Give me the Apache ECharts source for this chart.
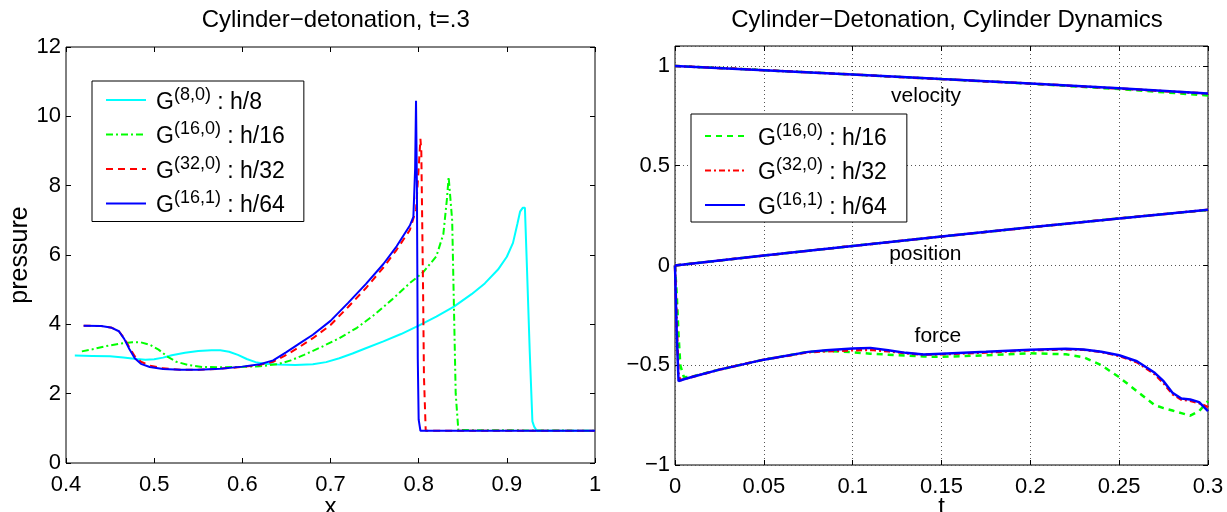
<!DOCTYPE html>
<html><head><meta charset="utf-8">
<script src="https://cdn.jsdelivr.net/npm/echarts@6/dist/echarts.min.js"></script>
<style>html,body{margin:0;padding:0;background:#fff}#c{width:1227px;height:512px}</style>
</head><body><div id="c"></div>
<script>
const FONT = '"Liberation Sans", Arial, Helvetica, sans-serif';

// ---------- texts ----------
const leftTitle = 'Cylinder−detonation, t=.3';
const rightTitle = 'Cylinder−Detonation, Cylinder Dynamics';
const leftXName = 'x', leftYName = 'pressure', rightXName = 't';

// ---------- tick values ----------
const leftXTicks = [0.4, 0.5, 0.6, 0.7, 0.8, 0.9, 1];
const leftYTicks = [0, 2, 4, 6, 8, 10, 12];
const rightXTicks = [0, 0.05, 0.1, 0.15, 0.2, 0.25, 0.3];
const rightYTicks = [-1, -0.5, 0, 0.5, 1];
const rightYMax = 1.1;

// ---------- legend labels: [key, superscript, suffix] ----------
const leftLegend = [['L8', '(8,0)', ' : h/8'], ['L16', '(16,0)', ' : h/16'], ['L32', '(32,0)', ' : h/32'], ['L64', '(16,1)', ' : h/64']];
const rightLegend = [['R16', '(16,0)', ' : h/16'], ['R32', '(32,0)', ' : h/32'], ['R64', '(16,1)', ' : h/64']];

// ---------- left plot: pressure vs x ----------
const p8 = [[0.41,3.10],[0.43,3.09],[0.45,3.08],[0.465,3.04],[0.48,3.0],[0.49,2.98],[0.50,2.99],[0.51,3.04],[0.52,3.11],[0.535,3.18],[0.55,3.23],[0.565,3.25],[0.575,3.25],[0.585,3.21],[0.595,3.12],[0.605,3.00],[0.615,2.91],[0.625,2.86],[0.64,2.84],[0.66,2.83],[0.68,2.85],[0.695,2.91],[0.71,3.02],[0.725,3.16],[0.74,3.31],[0.76,3.51],[0.78,3.72],[0.80,3.96],[0.82,4.22],[0.84,4.51],[0.86,4.87],[0.875,5.18],[0.89,5.58],[0.90,5.95],[0.907,6.35],[0.912,6.9],[0.915,7.25],[0.918,7.36],[0.9205,7.36],[0.923,5.5],[0.926,3.2],[0.929,1.2],[0.931,1.05],[0.934,0.93],[1.0,0.93]];
const p16 = [[0.418,3.22],[0.43,3.28],[0.445,3.37],[0.46,3.44],[0.475,3.48],[0.485,3.48],[0.495,3.41],[0.505,3.27],[0.515,3.07],[0.525,2.92],[0.54,2.82],[0.555,2.77],[0.575,2.76],[0.595,2.77],[0.62,2.79],[0.64,2.85],[0.655,2.96],[0.67,3.12],[0.69,3.35],[0.71,3.60],[0.73,3.90],[0.75,4.28],[0.77,4.72],[0.79,5.19],[0.805,5.50],[0.82,5.96],[0.828,6.6],[0.832,7.6],[0.834,8.25],[0.836,8.2],[0.838,7.0],[0.840,4.5],[0.842,2.0],[0.845,0.95],[1.0,0.93]];
const p32 = [[0.42,3.96],[0.44,3.95],[0.452,3.90],[0.46,3.80],[0.466,3.6],[0.472,3.33],[0.478,3.08],[0.485,2.92],[0.495,2.81],[0.51,2.73],[0.53,2.69],[0.55,2.69],[0.575,2.72],[0.60,2.77],[0.62,2.83],[0.635,2.92],[0.65,3.12],[0.665,3.35],[0.68,3.60],[0.70,3.98],[0.72,4.50],[0.74,5.04],[0.76,5.64],[0.775,6.15],[0.79,6.72],[0.797,7.3],[0.800,8.5],[0.802,9.35],[0.803,9.0],[0.805,5.0],[0.806,2.5],[0.808,0.93],[1.0,0.93]];
const p64 = [[0.42,3.96],[0.44,3.95],[0.452,3.90],[0.46,3.80],[0.466,3.58],[0.472,3.28],[0.478,3.02],[0.485,2.86],[0.495,2.77],[0.51,2.71],[0.53,2.69],[0.55,2.69],[0.575,2.72],[0.60,2.78],[0.62,2.85],[0.635,2.96],[0.65,3.20],[0.665,3.45],[0.68,3.70],[0.70,4.10],[0.72,4.62],[0.74,5.16],[0.76,5.74],[0.775,6.25],[0.79,6.85],[0.794,7.1],[0.796,8.5],[0.797,10.45],[0.798,8.0],[0.799,3.0],[0.800,1.25],[0.802,0.93],[1.0,0.93]];

// ---------- right plot: cylinder dynamics vs t ----------
const tLin = [0, 0.05, 0.1, 0.15, 0.2, 0.25, 0.3];
const vel16 = [1.0, 0.979, 0.957, 0.934, 0.911, 0.884, 0.852];
const vel32 = [1.0, 0.979, 0.957, 0.934, 0.912, 0.887, 0.861];
const vel64 = [1.0, 0.979, 0.957, 0.934, 0.912, 0.888, 0.862];
const pos16 = [0, 0.0497, 0.0978, 0.145, 0.191, 0.236, 0.278];
const pos32 = [0, 0.0497, 0.0978, 0.145, 0.191, 0.236, 0.279];
const pos64 = [0, 0.0497, 0.0978, 0.145, 0.191, 0.236, 0.279];
const tForce = [0, 0.001, 0.002, 0.003, 0.005, 0.01, 0.025, 0.05, 0.075, 0.085, 0.1, 0.11, 0.12, 0.13, 0.14, 0.15, 0.175, 0.2, 0.22, 0.23, 0.24, 0.25, 0.26, 0.27, 0.275, 0.28, 0.285, 0.29, 0.295, 0.3];
const force16 = [0, -0.15, -0.35, -0.5, -0.56, -0.556, -0.522, -0.472, -0.433, -0.428, -0.435, -0.442, -0.447, -0.452, -0.456, -0.458, -0.45, -0.44, -0.445, -0.46, -0.5, -0.56, -0.63, -0.70, -0.715, -0.727, -0.74, -0.753, -0.73, -0.68];
const force32 = [0, -0.3, -0.55, -0.575, -0.57, -0.558, -0.522, -0.472, -0.435, -0.43, -0.425, -0.423, -0.43, -0.44, -0.447, -0.445, -0.436, -0.425, -0.42, -0.423, -0.434, -0.453, -0.485, -0.545, -0.59, -0.645, -0.672, -0.678, -0.69, -0.71];
const force64 = [0, -0.35, -0.58, -0.577, -0.57, -0.558, -0.522, -0.472, -0.433, -0.425, -0.416, -0.413, -0.425, -0.438, -0.446, -0.442, -0.433, -0.422, -0.417, -0.421, -0.432, -0.45, -0.48, -0.538, -0.58, -0.638, -0.667, -0.672, -0.685, -0.73];
const curveLabels = [[0.1413, 0.846, 'velocity'], [0.1409, 0.054, 'position'], [0.148, -0.356, 'force']];

// ---------- helpers ----------
const zip = (xs, ys) => xs.map((x, i) => [x, ys[i]]);
const fmt = v => String(Math.round(v * 1000) / 1000).replace('-', '−');
const lbl = {fontFamily: FONT, fontSize: 22, color: '#000'};
const nameStyle = {fontFamily: FONT, fontSize: 24, color: '#000'};

function axisPair(kind, gi, ticks, max, primaryExtra) {
  const min = ticks[0];
  const interval = ticks[1] - ticks[0];
  const mx = max !== undefined ? max : ticks[ticks.length - 1];
  const base = {
    gridIndex: gi, type: 'value', min: min, max: mx, interval: interval,
    axisLine: {show: false, onZero: false},
    axisTick: {show: true, inside: true, length: 5, lineStyle: {color: '#000', width: 1}},
    splitLine: {show: false}
  };
  const prim = Object.assign({}, base, {
    position: kind === 'x' ? 'bottom' : 'left',
    axisLabel: Object.assign({}, lbl, {margin: kind === 'x' ? 11 : 5, formatter: v => (ticks.some(t => Math.abs(t - v) < 1e-9) ? fmt(v) : '')})
  }, primaryExtra || {});
  const sec = Object.assign({}, base, {position: kind === 'x' ? 'top' : 'right', axisLabel: {show: false}});
  return [prim, sec];
}

const dotted = {show: true, lineStyle: {color: '#555', type: [1, 3], width: 1}};

const xAxes = [
  ...axisPair('x', 0, leftXTicks, undefined, {name: leftXName, nameLocation: 'middle', nameGap: 32, nameMoveOverlap: false, nameTextStyle: nameStyle}),
  ...axisPair('x', 1, rightXTicks, undefined, {name: rightXName, nameLocation: 'middle', nameGap: 30, nameMoveOverlap: false, nameTextStyle: nameStyle, splitLine: dotted})
];
const yAxes = [
  ...axisPair('y', 0, leftYTicks, undefined, {name: leftYName, nameLocation: 'middle', nameGap: 33, nameMoveOverlap: false, nameTextStyle: Object.assign({}, nameStyle, {fontSize: 25})}),
  ...axisPair('y', 1, rightYTicks, rightYMax, {splitLine: dotted})
];

function lineSeries(name, xi, yi, data, color, type, width) {
  return {
    type: 'line', name: name, xAxisIndex: xi, yAxisIndex: yi, data: data,
    symbol: 'none', silent: true, animation: false,
    lineStyle: {color: color, width: width, type: type},
    itemStyle: {color: color}
  };
}

const CY = '#00ffff', GR = '#00ff00', RD = '#ff0000', BL = '#0000ff';
const series = [
  lineSeries('L8', 0, 0, p8, CY, 'solid', 2),
  lineSeries('L16', 0, 0, p16, GR, [7, 3, 2, 3], 2),
  lineSeries('L32', 0, 0, p32, RD, [7, 5], 2),
  lineSeries('L64', 0, 0, p64, BL, 'solid', 2),
];
[['R16', GR, [6, 5], [vel16, pos16, force16]], ['R32', RD, [6, 3, 2, 3], [vel32, pos32, force32]], ['R64', BL, 'solid', [vel64, pos64, force64]]]
  .forEach(([name, c, t, arrs]) => {
    series.push(lineSeries(name, 2, 2, zip(tLin, arrs[0]), c, t, 2.5));
    series.push(lineSeries(name, 2, 2, zip(tLin, arrs[1]), c, t, 2.5));
    series.push(lineSeries(name, 2, 2, zip(tForce, arrs[2]), c, t, 2.5));
  });
series.push({
  type: 'scatter', xAxisIndex: 2, yAxisIndex: 2, data: curveLabels, symbolSize: 0, silent: true, animation: false,
  itemStyle: {opacity: 1, color: '#000'},
  label: {show: true, position: 'inside', formatter: p => p.data[2], fontFamily: FONT, fontSize: 21, color: '#000', opacity: 1, textBorderWidth: 0}
});

function legendRich(extra) {
  return {
    g: {fontFamily: FONT, fontSize: 23, color: '#000', lineHeight: 28, verticalAlign: 'bottom'},
    s: {fontFamily: FONT, fontSize: 18, color: '#000', lineHeight: 18, verticalAlign: 'top'},
    p: {width: extra}
  };
}
function legendFormatter(entries) {
  const m = {};
  entries.forEach(e => { m[e[0]] = '{p|}{g|G}{s|' + e[1] + '}{g|' + e[2] + '}'; });
  return n => m[n];
}
function legend(entries, left, top, padding, gap, textPad) {
  return {
    data: entries.map(e => e[0]), left: left, top: top, orient: 'vertical',
    itemWidth: 40, itemHeight: 14, itemGap: gap, padding: padding,
    borderColor: '#000', borderWidth: 1, backgroundColor: '#fff', borderRadius: 0,
    itemStyle: {opacity: 0},
    selectedMode: false, formatter: legendFormatter(entries),
    textStyle: {fontFamily: FONT, fontSize: 23, color: '#000', rich: legendRich(textPad)}
  };
}

const option = {
  backgroundColor: '#fff',
  animation: false,
  title: [
    {text: leftTitle, left: 330.75, top: 3, textAlign: 'center', textStyle: {fontFamily: FONT, fontSize: 24, fontWeight: 'normal', color: '#000'}},
    {text: rightTitle, left: 942, top: 3, textAlign: 'center', textStyle: {fontFamily: FONT, fontSize: 24, fontWeight: 'normal', color: '#000'}}
  ],
  grid: [
    {left: 66, top: 47, width: 529, height: 416, show: true, borderColor: '#000', borderWidth: 1, backgroundColor: 'transparent', outerBoundsMode: 'none', containLabel: false},
    {left: 675, top: 46, width: 533, height: 419, show: true, borderColor: '#000', borderWidth: 1, backgroundColor: 'transparent', outerBoundsMode: 'none', containLabel: false}
  ],
  xAxis: xAxes,
  yAxis: yAxes,
  legend: [
    legend(leftLegend, 92, 81, [5, 19, 4, 13], 6.5, 5),
    legend(rightLegend, 691, 114, [8, 20, 3, 13], 6.5, 8)
  ],
  series: series
};
const chart = echarts.init(document.getElementById('c'), null, {renderer: 'canvas'});
chart.setOption(option);
</script></body></html>
